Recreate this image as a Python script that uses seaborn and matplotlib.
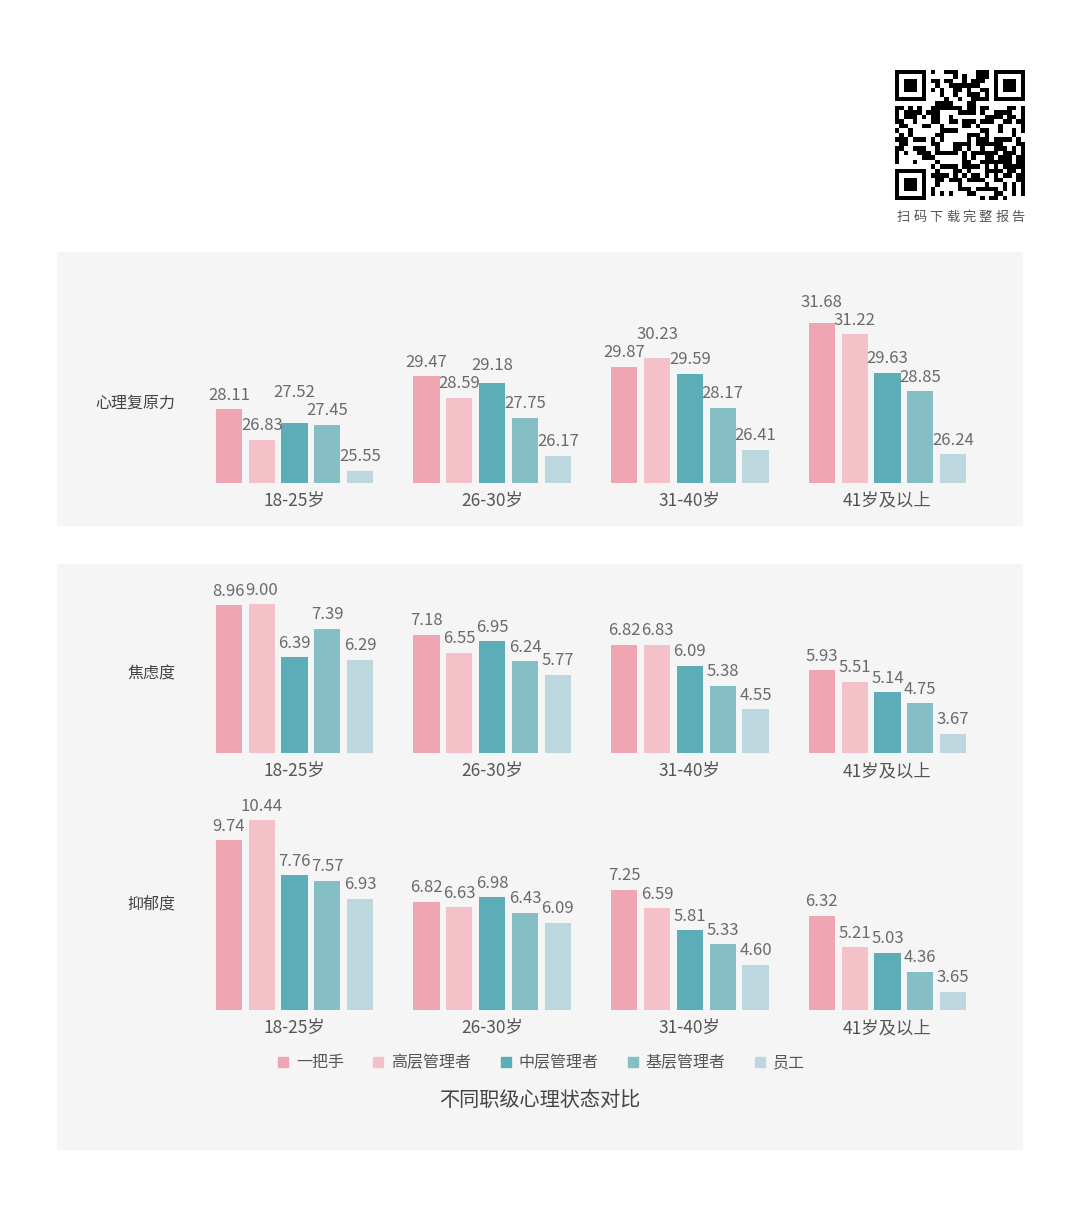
import hashlib
import numpy as np
import pandas as pd
import matplotlib
matplotlib.use("Agg")
import matplotlib.pyplot as plt
from matplotlib.patches import Rectangle
from matplotlib.lines import Line2D
import seaborn as sns

# ---------------- data ----------------
age_groups = ["18-25岁", "26-30岁", "31-40岁", "41岁及以上"]
levels = ["一把手", "高层管理者", "中层管理者", "基层管理者", "员工"]
level_colors = ["#F0A6B2", "#F5C1C9", "#5CADB8", "#85BEC4", "#BCD7DE"]

# values per level, ordered by age group
resilience_top = [28.11, 29.47, 29.87, 31.68]
resilience_senior = [26.83, 28.59, 30.23, 31.22]
resilience_middle = [27.52, 29.18, 29.59, 29.63]
resilience_junior = [27.45, 27.75, 28.17, 28.85]
resilience_staff = [25.55, 26.17, 26.41, 26.24]

anxiety_top = [8.96, 7.18, 6.82, 5.93]
anxiety_senior = [9.00, 6.55, 6.83, 5.51]
anxiety_middle = [6.39, 6.95, 6.09, 5.14]
anxiety_junior = [7.39, 6.24, 5.38, 4.75]
anxiety_staff = [6.29, 5.77, 4.55, 3.67]

depression_top = [9.74, 6.82, 7.25, 6.32]
depression_senior = [10.44, 6.63, 6.59, 5.21]
depression_middle = [7.76, 6.98, 5.81, 5.03]
depression_junior = [7.57, 6.43, 5.33, 4.36]
depression_staff = [6.93, 6.09, 4.60, 3.65]

row_titles = ["心理复原力", "焦虑度", "抑郁度"]
chart_title = "不同职级心理状态对比"
qr_caption = "扫码下载完整报告"


def long_frame(series_list):
    rows = []
    for lvl, vals in zip(levels, series_list):
        for age, v in zip(age_groups, vals):
            rows.append({"age": age, "level": lvl, "value": v})
    df = pd.DataFrame(rows)
    df["age"] = pd.Categorical(df["age"], categories=age_groups, ordered=True)
    df["level"] = pd.Categorical(df["level"], categories=levels, ordered=True)
    return df


df_res = long_frame([resilience_top, resilience_senior, resilience_middle,
                     resilience_junior, resilience_staff])
df_anx = long_frame([anxiety_top, anxiety_senior, anxiety_middle,
                     anxiety_junior, anxiety_staff])
df_dep = long_frame([depression_top, depression_senior, depression_middle,
                     depression_junior, depression_staff])

# ---------------- style ----------------
sns.set_theme(style="white")
plt.rcParams["font.family"] = ["Noto Sans CJK SC", "DejaVu Sans"]
plt.rcParams["axes.unicode_minus"] = False

W, H = 1080, 1229
DPI = 100
fig = plt.figure(figsize=(W / DPI, H / DPI), dpi=DPI, facecolor="white")

PANEL = "#F5F5F5"
for (y0, y1) in [(252, 526), (564, 1150)]:
    fig.add_artist(Rectangle((57 / W, 1 - y1 / H), (1023 - 57) / W, (y1 - y0) / H,
                             transform=fig.transFigure, facecolor=PANEL,
                             edgecolor="none", zorder=-5))

# axis break used by the reference on the tallest bars of the lower panel
BREAK_AT, BREAK_GAP, EPS = 8.0, 0.75, 0.01


def fwd(v):
    v = np.asarray(v, dtype=float)
    return np.where(v <= BREAK_AT, v,
                    np.where(v <= BREAK_AT + BREAK_GAP,
                             BREAK_AT + (v - BREAK_AT) * EPS,
                             v - BREAK_GAP * (1 - EPS)))


def inv(u):
    u = np.asarray(u, dtype=float)
    top = BREAK_AT + BREAK_GAP * EPS
    return np.where(u <= BREAK_AT, u,
                    np.where(u <= top, BREAK_AT + (u - BREAK_AT) / EPS,
                             u + BREAK_GAP * (1 - EPS)))


LEFT_PX, RIGHT_PX = 195.7, 986.3


def make_ax(bottom_px, top_px):
    return fig.add_axes([LEFT_PX / W, 1 - bottom_px / H,
                         (RIGHT_PX - LEFT_PX) / W, (bottom_px - top_px) / H])


VAL_FS = 12
LABEL_PAD = 4


def draw_panel(ax, df, ymin, px_per_unit, height_px, broken=False):
    sns.barplot(data=df, x="age", y="value", hue="level", palette=level_colors,
                width=0.83, gap=0.2, ax=ax, legend=False, saturation=1,
                errorbar=None, linewidth=0, edgecolor="none")
    ax.set_facecolor("none")
    ax.set_xlim(-0.5, len(age_groups) - 0.5)
    if broken:
        ax.set_yscale("function", functions=(fwd, inv))
        top_f = ymin + height_px / px_per_unit
        ax.set_ylim(ymin, float(inv(top_f)))
    else:
        ax.set_ylim(ymin, ymin + height_px / px_per_unit)
    ax.set_xlabel("")
    ax.set_ylabel("")
    ax.set_yticks([])
    ax.tick_params(axis="x", length=0, pad=6.5, labelsize=12.5, labelcolor="#555555")
    for s in ax.spines.values():
        s.set_visible(False)
    texts = []
    for cont in ax.containers:
        texts += ax.bar_label(cont, fmt="%.2f", padding=LABEL_PAD, fontsize=VAL_FS,
                              color="#6A6A6A")
    return texts


def resolve_overlap(texts):
    fig.canvas.draw()
    r = fig.canvas.get_renderer()
    items = []
    for t in texts:
        bb = t.get_window_extent(r)
        items.append([t, bb.x0 + 2, bb.x1 - 2, bb.y0, bb.y1 + 1])
    items.sort(key=lambda it: it[3])
    placed = []
    for t, x0, x1, y0, y1 in items:
        orig = y0
        moved = True
        while moved:
            moved = False
            for p in placed:
                if x0 < p[1] and x1 > p[0] and y0 < p[3] and y1 > p[2]:
                    dy = p[3] - y0
                    y0 += dy
                    y1 += dy
                    moved = True
        if y0 != orig:
            ox, oy = t.xyann
            t.xyann = (ox, oy + (y0 - orig) * 72 / fig.dpi)
        placed.append([x0, x1, y0, y1])


ax1 = make_ax(482.5, 282.5)
t1 = draw_panel(ax1, df_res, 25.06, 24.05, 200)
ax2 = make_ax(753, 573)
t2 = draw_panel(ax2, df_anx, 3.0, 28.3, 180, broken=True)
ax3 = make_ax(1010, 800)
t3 = draw_panel(ax3, df_dep, 3.0, 28.3, 210, broken=True)

for ts in (t1, t2, t3):
    resolve_overlap(ts)

# row titles
for label, ypx in zip(row_titles, [403, 674, 905]):
    fig.text(175 / W, 1 - ypx / H, label, ha="right", va="center",
             fontsize=11.5, color="#444444")

# legend
handles = [Line2D([], [], marker="s", linestyle="none", markersize=7,
                  markerfacecolor=c, markeredgecolor=c) for c in level_colors]
fig.legend(handles, levels, loc="center", bbox_to_anchor=(0.5, 1 - 1063 / H),
           ncol=5, frameon=False, fontsize=11.5, handletextpad=0.3,
           columnspacing=1.65, handlelength=1.0, labelcolor="#555555")

fig.text(0.5, 1 - 1100 / H, chart_title, ha="center", va="center",
         fontsize=14.5, color="#444444")

# QR-like code block (decorative)
N = 29
bits = []
seed = qr_caption.encode("utf-8")
while len(bits) < N * N:
    seed = hashlib.sha256(seed).digest()
    for byte in seed:
        for k in range(8):
            bits.append((byte >> k) & 1)
qr = np.array(bits[:N * N], dtype=float).reshape(N, N)


def finder(r, c):
    qr[r:r + 7, c:c + 7] = 1
    qr[r + 1:r + 6, c + 1:c + 6] = 0
    qr[r + 2:r + 5, c + 2:c + 5] = 1


for (r, c) in [(0, 0), (0, N - 7), (N - 7, 0)]:
    qr[max(r - 1, 0):r + 8, max(c - 1, 0):c + 8] = 0
    finder(r, c)
qax = fig.add_axes([895 / W, 1 - 200 / H, 130 / W, 130 / H])
qax.imshow(qr, cmap="Greys", interpolation="nearest", vmin=0, vmax=1)
qax.set_axis_off()

for i, ch in enumerate(qr_caption):
    fig.text((903.5 + i * 16.4) / W, 1 - 217 / H, ch, ha="center", va="center",
             fontsize=9.5, color="#555555")

fig.savefig("out.png", dpi=DPI, facecolor="white")
